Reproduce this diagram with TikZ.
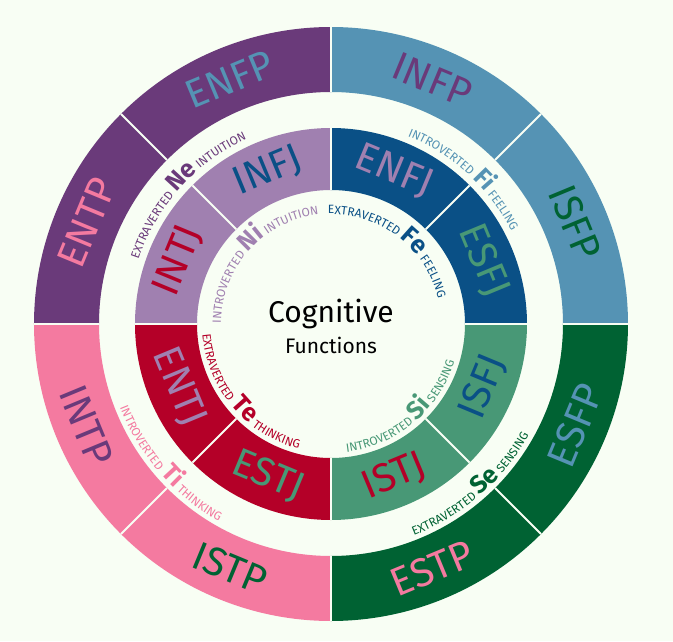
\documentclass[tikz,border=0pt]{standalone}
\usepackage{fontspec}
\setmainfont{Fira Sans}
\usetikzlibrary{decorations.text,positioning}
\definecolor{bgpaper}{RGB}{248,254,244}
\definecolor{lightblue}{RGB}{85,147,180}
\definecolor{darkblue}{RGB}{10,80,134}
\definecolor{darkpurple}{RGB}{106,58,122}
\definecolor{lightpurple}{RGB}{160,128,176}
\definecolor{pinkish}{RGB}{244,122,160}
\definecolor{darkred}{RGB}{180,0,40}
\definecolor{darkgreen}{RGB}{0,98,51}
\definecolor{midgreen}{RGB}{72,152,118}
\newcommand{\typefont}{\fontsize{40}{40}\selectfont}
\tikzset{
  typelabel/.style={font=\typefont, inner sep=0pt},
  funclabel/.style={decorate, decoration={text along path, text align=center}},
  sepline/.style={draw=bgpaper, line width=2pt}
}
\begin{document}
\begin{tikzpicture}[x=1pt,y=1pt]
  % background and size
  \fill[bgpaper] (-331,-317) rectangle (342,324);
  % rings: start angle / fill / label / label colour / radii
  \foreach \a/\c/\n/\t/\ra/\rb in {
      90/darkpurple/ENFP/lightblue/232/297, 45/lightblue/INFP/darkpurple/232/297,
      0/lightblue/ISFP/darkgreen/232/297, -45/darkgreen/ESFP/lightblue/232/297,
      -90/darkgreen/ESTP/pinkish/232/297, -135/pinkish/ISTP/darkgreen/232/297,
      180/pinkish/INTP/darkpurple/232/297, 135/darkpurple/ENTP/pinkish/232/297,
      90/lightpurple/INFJ/darkblue/134/196, 45/darkblue/ENFJ/lightpurple/134/196,
      0/darkblue/ESFJ/midgreen/134/196, -45/midgreen/ISFJ/darkblue/134/196,
      -90/midgreen/ISTJ/darkred/134/196, -135/darkred/ESTJ/midgreen/134/196,
      180/darkred/ENTJ/lightpurple/134/196, 135/lightpurple/INTJ/darkred/134/196}{
    \pgfmathsetmacro{\b}{\a+45}
    \pgfmathsetmacro{\m}{\a+22.5}
    \pgfmathsetmacro{\rmid}{(\ra+\rb)/2}
    \pgfmathsetmacro{\rot}{sin(\m)>0 ? \m-90 : \m+90}
    \fill[\c] (\a:\ra) arc[start angle=\a, end angle=\b, radius=\ra]
      -- (\b:\rb) arc[start angle=\b, end angle=\a, radius=\rb] -- cycle;
    \node[typelabel, text=\t, rotate=\rot] (\n) at (\m:\rmid) {\n};
  }
  % separators
  \foreach \a in {0,45,...,315}{
    \draw[sepline] (\a:134) -- (\a:196);
    \draw[sepline] (\a:232) -- (\a:297);
  }
  % centre
  \node[inner sep=0pt] (title) at (0,10) {\fontsize{30}{30}\selectfont Cognitive};
  \node[inner sep=0pt, below=8pt of title] (subtitle) {\fontsize{21}{21}\selectfont Functions};
  % function labels, upper half
  \path[funclabel, decoration={text color=lightblue, text={|\fontsize{12}{12}\selectfont|INTROVERTED |\bfseries\fontsize{25}{25}\selectfont|Fi|\fontsize{12}{12}\selectfont| FEELING}}]
    (95:203) arc[start angle=95, end angle=0, radius=203];
  \path[funclabel, decoration={text color=darkpurple, text={|\fontsize{12}{12}\selectfont|EXTRAVERTED |\bfseries\fontsize{25}{25}\selectfont|Ne|\fontsize{12}{12}\selectfont| INTUITION}}]
    (183:203) arc[start angle=183, end angle=93, radius=203];
  \path[funclabel, decoration={text color=darkblue, text={|\fontsize{12}{12}\selectfont|EXTRAVERTED |\bfseries\fontsize{25}{25}\selectfont|Fe|\fontsize{12}{12}\selectfont| FEELING}}]
    (100:110) arc[start angle=100, end angle=5, radius=110];
  \path[funclabel, decoration={text color=lightpurple, text={|\fontsize{12}{12}\selectfont|INTROVERTED |\bfseries\fontsize{25}{25}\selectfont|Ni|\fontsize{12}{12}\selectfont| INTUITION}}]
    (185:110) arc[start angle=185, end angle=91, radius=110];
  % function labels, lower half
  \path[funclabel, decoration={text color=darkred, text={|\fontsize{12}{12}\selectfont|EXTRAVERTED |\bfseries\fontsize{25}{25}\selectfont|Te|\fontsize{12}{12}\selectfont| THINKING}}]
    (172:129) arc[start angle=172, end angle=268, radius=129];
  \path[funclabel, decoration={text color=midgreen, text={|\fontsize{12}{12}\selectfont|INTROVERTED |\bfseries\fontsize{25}{25}\selectfont|Si|\fontsize{12}{12}\selectfont| SENSING}}]
    (262:129) arc[start angle=262, end angle=358, radius=129];
  \path[funclabel, decoration={text color=pinkish, text={|\fontsize{12}{12}\selectfont|INTROVERTED |\bfseries\fontsize{25}{25}\selectfont|Ti|\fontsize{12}{12}\selectfont| THINKING}}]
    (176:227) arc[start angle=176, end angle=266, radius=227];
  \path[funclabel, decoration={text color=darkgreen, text={|\fontsize{12}{12}\selectfont|EXTRAVERTED |\bfseries\fontsize{25}{25}\selectfont|Se|\fontsize{12}{12}\selectfont| SENSING}}]
    (266:227) arc[start angle=266, end angle=356, radius=227];
\end{tikzpicture}
\end{document}
